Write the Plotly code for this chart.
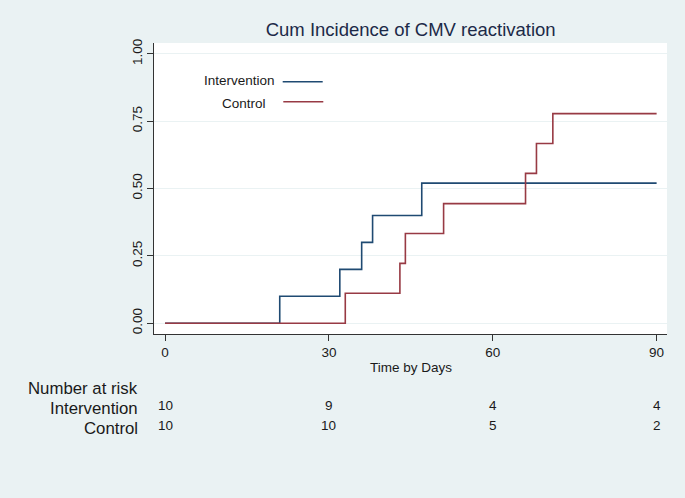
import plotly.graph_objects as go

# ---- data ----
intervention_days = [0, 21, 32, 36, 38, 47, 90]
intervention_cuminc = [0.0, 0.10, 0.20, 0.30, 0.40, 0.52, 0.52]
control_days = [0, 33, 43, 44, 51, 66, 68, 71, 90]
control_cuminc = [0.0, 0.111, 0.222, 0.333, 0.444, 0.556, 0.667, 0.778, 0.778]

x_ticks = [0, 30, 60, 90]
y_ticks = [0, 0.25, 0.5, 0.75, 1.0]
y_ticktext = ["0.00", "0.25", "0.50", "0.75", "1.00"]

risk_times = [0, 30, 60, 90]
risk_intervention = [10, 9, 4, 4]
risk_control = [10, 10, 5, 2]

title_text = "Cum Incidence of CMV reactivation"
x_title = "Time by Days"
series_names = ["Intervention", "Control"]

# ---- style ----
BG = "#EAF2F3"
BLUE = "#1f4a72"
RED = "#983a44"
TXT = "#1a1a1a"
FONT = "Liberation Sans, Arial, sans-serif"

W, H = 685, 498
L, R, T, B = 154, 18, 43, 164
pw = W - L - R
ph = H - T - B

def px_x(px):
    return (px - L) / pw

def px_y(py):
    return (H - B - py) / ph

fig = go.Figure()
fig.add_trace(go.Scatter(x=intervention_days, y=intervention_cuminc, mode="lines",
                         line=dict(color=BLUE, width=1.6, shape="hv"),
                         name=series_names[0], showlegend=False))
fig.add_trace(go.Scatter(x=control_days, y=control_cuminc, mode="lines",
                         line=dict(color=RED, width=1.6, shape="hv"),
                         name=series_names[1], showlegend=False))

annotations = []
shapes = []

# legend (Stata style: text then line)
annotations.append(dict(text=series_names[0], xref="paper", yref="paper",
                        x=px_x(277), y=px_y(80.5), xanchor="right", yanchor="middle",
                        showarrow=False, font=dict(size=13.5, color=TXT, family=FONT)))
annotations.append(dict(text=series_names[1], xref="paper", yref="paper",
                        x=px_x(244), y=px_y(103), xanchor="center", yanchor="middle",
                        showarrow=False, font=dict(size=13.5, color=TXT, family=FONT)))
shapes.append(dict(type="line", xref="paper", yref="paper",
                   x0=px_x(282.7), x1=px_x(322.7), y0=px_y(81.7), y1=px_y(81.7),
                   line=dict(color=BLUE, width=1.6)))
shapes.append(dict(type="line", xref="paper", yref="paper",
                   x0=px_x(283.3), x1=px_x(323.3), y0=px_y(101.7), y1=px_y(101.7),
                   line=dict(color=RED, width=1.6)))

# x-axis title
annotations.append(dict(text=x_title, xref="paper", yref="paper",
                        x=0.5, y=px_y(367.7), xanchor="center", yanchor="middle",
                        showarrow=False, font=dict(size=13.5, color=TXT, family=FONT)))

# number at risk table
annotations.append(dict(text="Number at risk", xref="paper", yref="paper",
                        x=px_x(140), y=px_y(388.5), xanchor="right", yanchor="middle",
                        showarrow=False, font=dict(size=16.8, color=TXT, family=FONT)))
for name, py in [(series_names[0], 408.5), (series_names[1], 428.5)]:
    annotations.append(dict(text=name, xref="paper", yref="paper",
                            x=px_x(140), y=px_y(py), xanchor="right", yanchor="middle",
                            showarrow=False, font=dict(size=16.8, color=TXT, family=FONT)))
for t, n in zip(risk_times, risk_intervention):
    annotations.append(dict(text=str(n), xref="x", yref="paper", x=t, y=px_y(405),
                            xanchor="center", yanchor="middle", showarrow=False,
                            font=dict(size=13.5, color=TXT, family=FONT)))
for t, n in zip(risk_times, risk_control):
    annotations.append(dict(text=str(n), xref="x", yref="paper", x=t, y=px_y(425),
                            xanchor="center", yanchor="middle", showarrow=False,
                            font=dict(size=13.5, color=TXT, family=FONT)))

fig.update_layout(
    width=W, height=H,
    margin=dict(l=L, r=R, t=T, b=B, pad=0),
    paper_bgcolor=BG, plot_bgcolor="white",
    font=dict(family=FONT, color=TXT, size=13.5),
    title=dict(text=title_text, x=px_x(410.7), xref="paper", xanchor="center",
               y=1 - 30 / H, yref="container", yanchor="middle",
               font=dict(size=18.5, color="#1c2a48", family=FONT)),
    annotations=annotations, shapes=shapes,
    xaxis=dict(range=[-2.02, 91.9], tickvals=x_ticks, showgrid=False, zeroline=False,
               showline=True, linecolor="#333333", linewidth=1.2,
               ticks="outside", ticklen=6, tickcolor="#333333", tickwidth=1.2,
               tickfont=dict(size=13.5, color=TXT, family=FONT)),
    yaxis=dict(range=[-0.04, 1.04], tickvals=y_ticks, ticktext=y_ticktext,
               tickangle=-90, showgrid=True, gridcolor=BG, gridwidth=1.2, zeroline=False,
               showline=True, linecolor="#333333", linewidth=1.2,
               ticks="outside", ticklen=6, tickcolor="#333333", tickwidth=1.2,
               tickfont=dict(size=13.5, color=TXT, family=FONT)),
)

fig.write_html("out.html", config={"displayModeBar": False},
               post_script="document.body.style.margin='0';")
